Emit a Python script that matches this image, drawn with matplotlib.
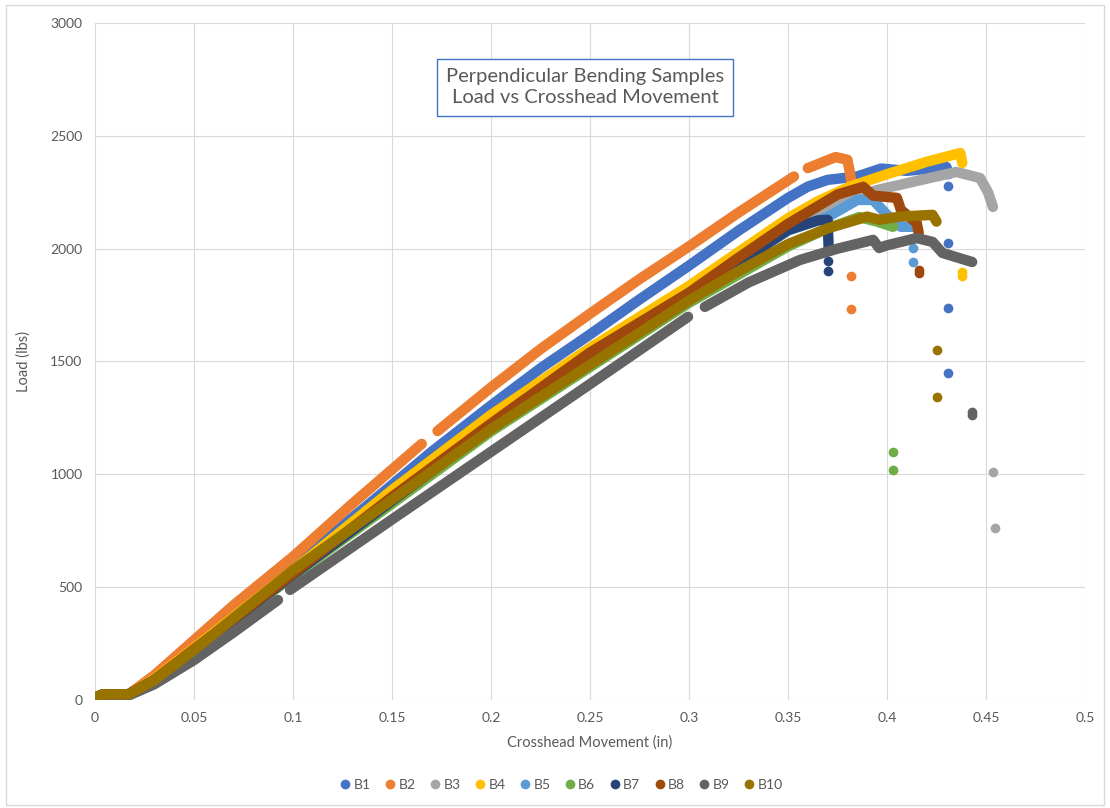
import matplotlib
matplotlib.use("Agg")
import matplotlib.pyplot as plt
from matplotlib.lines import Line2D
from matplotlib.patches import Rectangle
import numpy as np

plt.rcParams['font.family'] = ['Lato', 'DejaVu Sans']

nan = np.nan

# continuous traces (nan = gap in the record)
b1_x = [0, 0.004, 0.017, 0.03, 0.05, 0.07, 0.1, 0.139, 0.17, 0.2, 0.225, 0.25, 0.275, 0.3, 0.325, 0.35, 0.36, 0.37, 0.385, 0.397, 0.41, 0.43, 0.431]
b1_y = [10, 25, 25, 100, 250, 400, 590, 873, 1100, 1305, 1470, 1620, 1775, 1925, 2080, 2225, 2275, 2305, 2320, 2355, 2345, 2362, 2330]
b2_x = [0, 0.004, 0.017, 0.03, 0.05, 0.07, 0.1, 0.13, 0.165, nan, 0.173, 0.2, 0.225, 0.25, 0.275, 0.3, 0.325, 0.353, nan, 0.36, 0.374, 0.38, 0.381, 0.382]
b2_y = [10, 25, 25, 110, 265, 420, 635, 870, 1135, nan, 1192, 1385, 1555, 1712, 1865, 2010, 2160, 2320, nan, 2357, 2406, 2394, 2349, 2296]
b3_x = [0, 0.004, 0.017, 0.03, 0.05, 0.1, 0.2, 0.3, 0.35, 0.375, 0.395, 0.415, 0.435, 0.447, 0.451, 0.4535]
b3_y = [10, 25, 25, 90, 225, 565, 1230, 1810, 2100, 2200, 2260, 2300, 2340, 2313, 2250, 2185]
b4_x = [0, 0.004, 0.017, 0.03, 0.05, 0.1, 0.15, 0.2, 0.25, 0.3, 0.325, 0.35, 0.365, 0.381, 0.4, 0.42, 0.437, 0.438]
b4_y = [10, 25, 25, 95, 230, 575, 930, 1263, 1560, 1835, 1985, 2135, 2210, 2274, 2330, 2385, 2424, 2380]
b5_x = [0, 0.004, 0.017, 0.03, 0.05, 0.1, 0.2, 0.3, 0.35, 0.37, 0.385, 0.393, 0.4, 0.407, 0.413]
b5_y = [10, 25, 25, 88, 220, 560, 1220, 1800, 2080, 2140, 2216, 2216, 2150, 2097, 2097]
b6_x = [0, 0.004, 0.017, 0.03, 0.05, 0.1, 0.2, 0.3, 0.35, 0.37, 0.386, 0.395, 0.403]
b6_y = [10, 25, 25, 85, 215, 550, 1190, 1760, 2010, 2090, 2140, 2120, 2097]
b7_x = [0, 0.004, 0.017, 0.03, 0.05, 0.1, 0.2, 0.3, 0.35, 0.365, 0.37, 0.3705]
b7_y = [10, 25, 25, 88, 220, 555, 1210, 1790, 2083, 2125, 2128, 2008]
b8_x = [0, 0.004, 0.017, 0.03, 0.05, 0.1, 0.15, 0.2, 0.25, 0.3, 0.325, 0.35, 0.375, 0.388, 0.393, 0.405, 0.407, 0.415, 0.416]
b8_y = [10, 25, 25, 90, 225, 560, 900, 1225, 1540, 1805, 1960, 2110, 2240, 2274, 2235, 2225, 2172, 2114, 2070]
b9_x = [0, 0.004, 0.017, 0.03, 0.05, 0.07, 0.0924, nan, 0.0985, 0.15, 0.2, 0.25, 0.2995, nan, 0.308, 0.33, 0.356, 0.375, 0.393, 0.396, 0.40, 0.415, 0.423, 0.428, 0.443]
b9_y = [10, 20, 20, 70, 177, 300, 443, nan, 488, 800, 1100, 1400, 1698, nan, 1742, 1850, 1950, 2000, 2039, 2003, 2015, 2047, 2030, 1981, 1941]
b10_x = [0, 0.004, 0.017, 0.03, 0.05, 0.1, 0.2, 0.3, 0.325, 0.35, 0.37, 0.39, 0.396, 0.4066, 0.423, 0.425]
b10_y = [10, 25, 25, 88, 222, 575, 1200, 1770, 1900, 2020, 2090, 2142, 2128, 2142, 2150, 2120]

# isolated failure readings
b1_px, b1_py = [0.431, 0.431, 0.431, 0.431], [2278, 2025, 1738, 1450]
b2_px, b2_py = [0.382, 0.382], [1880, 1733]
b3_px, b3_py = [0.4535, 0.4545], [1010, 763]
b4_px, b4_py = [0.438, 0.438], [1897, 1880]
b5_px, b5_py = [0.413, 0.413], [2003, 1941]
b6_px, b6_py = [0.403, 0.403], [1100, 1020]
b7_px, b7_py = [0.37, 0.37], [1946, 1902]
b8_px, b8_py = [0.416, 0.416], [1906, 1893]
b9_px, b9_py = [0.443, 0.443], [1277, 1264]
b10_px, b10_py = [0.425, 0.425], [1551, 1343]

names = ['B1', 'B2', 'B3', 'B4', 'B5', 'B6', 'B7', 'B8', 'B9', 'B10']
colors = ['#4472C4', '#ED7D31', '#A5A5A5', '#FFC000', '#5B9BD5',
          '#70AD47', '#264478', '#9E480E', '#636363', '#997300']
traces = [(b1_x, b1_y), (b2_x, b2_y), (b3_x, b3_y), (b4_x, b4_y), (b5_x, b5_y),
          (b6_x, b6_y), (b7_x, b7_y), (b8_x, b8_y), (b9_x, b9_y), (b10_x, b10_y)]
points = [(b1_px, b1_py), (b2_px, b2_py), (b3_px, b3_py), (b4_px, b4_py), (b5_px, b5_py),
          (b6_px, b6_py), (b7_px, b7_py), (b8_px, b8_py), (b9_px, b9_py), (b10_px, b10_py)]

fig = plt.figure(figsize=(11.1, 8.08), dpi=100)
ax = fig.add_axes([0.0856, 0.1337, 0.8919, 0.8378])

for (tx, ty), (px, py), c in zip(traces, points, colors):
    ax.plot(tx, ty, color=c, lw=7.5, solid_capstyle='round', solid_joinstyle='round', zorder=3)
    ax.plot(px, py, 'o', color=c, ms=7, mec='none', zorder=3)

ax.set_xlim(0, 0.5)
ax.set_ylim(0, 3000)
ax.set_xticks(np.arange(0, 0.51, 0.05))
ax.set_xticklabels(['0', '0.05', '0.1', '0.15', '0.2', '0.25', '0.3', '0.35', '0.4', '0.45', '0.5'])
ax.set_yticks(np.arange(0, 3001, 500))
ax.grid(True, color='#D9D9D9', lw=0.8, zorder=0)
ax.set_axisbelow(True)
for s in ax.spines.values():
    s.set_visible(False)
ax.tick_params(length=0, labelsize=10, labelcolor='#595959', pad=9)

ax.set_xlabel('Crosshead Movement (in)', fontsize=10.5, color='#595959', labelpad=8)
ax.set_ylabel('Load (lbs)', fontsize=10.5, color='#595959', labelpad=14)

ax.text(0.495, 0.905, 'Perpendicular Bending Samples\nLoad vs Crosshead Movement',
        transform=ax.transAxes, ha='center', va='center', fontsize=14.5, color='#595959',
        linespacing=1.3,
        bbox=dict(boxstyle='square,pad=0.45', fc='white', ec='#4472C4', lw=1))

handles = [Line2D([], [], ls='none', marker='o', ms=7, color=c, mec='none') for c in colors]
fig.legend(handles, names, loc='center', bbox_to_anchor=(0.505, 0.029), ncol=10,
           frameon=False, fontsize=10, handletextpad=0.1, columnspacing=0.9,
           handlelength=1.0, labelcolor='#595959')

fig.patches.append(Rectangle((0.005, 0.004), 0.99, 0.99, transform=fig.transFigure,
                             fill=False, ec='#D9D9D9', lw=1))

fig.savefig('out.png', dpi=100)
